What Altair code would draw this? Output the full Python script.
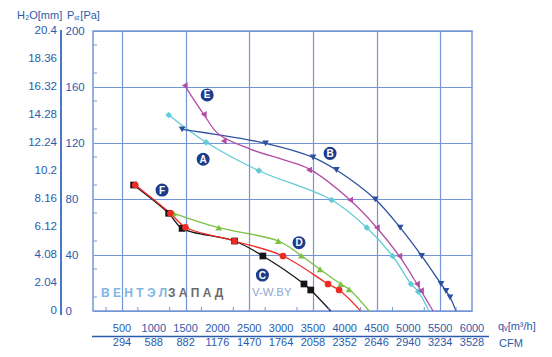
import altair as alt
import pandas as pd

# ---- data (marker positions) ----
A_q = [1234, 1823, 2651, 3795, 4348, 4752, 5041, 5156]
A_p = [140, 120.5, 100.2, 79.3, 59.5, 39.3, 19.3, 13.8]
B_q = [1445, 2757, 3502, 3870, 4479, 4872, 5209, 5513, 5592, 5655]
B_p = [129.8, 119.8, 109.8, 100.7, 79.8, 59.5, 39.3, 19.3, 14.3, 9.8]
C_q = [683, 1234, 1445, 2269, 2714, 3360, 3466]
C_p = [90, 69.8, 59, 50, 39.3, 19.3, 15]
D_q = [1313, 2021, 2957, 3319, 3612, 3938, 4069]
D_p = [69.8, 59.5, 50, 39.5, 29.8, 19.3, 15.5]
E_q = [1486, 1785, 2100, 3439, 4085, 4505, 4857, 5135, 5198]
E_p = [161, 140.5, 121.5, 100.7, 79.3, 59.5, 39.3, 19.3, 14.5]
F_q = [709, 1261, 1497, 2269, 3030, 3738, 3912]
F_p = [90, 69.8, 59.8, 50, 39.3, 19.3, 15]
# curve E is a smoothed fit that runs a little above its third marker
E_line_q = [1486, 1785, 2021, 2524, 3045, 3439, 4085, 4505, 4857, 5135, 5198]
E_line_p = [161, 140.5, 126.2, 115.5, 107.9, 101.5, 79.3, 59.5, 39.3, 19.3, 14.5]
# where each curve meets the zero-pressure line
end_q = {"A": 5324, "B": 5750, "C": 3780, "D": 4384, "E": 5388, "F": 4252}

curves = ["C", "F", "D", "A", "E", "B"]
curve_colors = ["#151515", "#ee2a24", "#7cc242", "#63cbd6", "#b24ca6", "#2c4f9e"]
curve_shapes = ["square", "circle", "triangle-up", "diamond", "triangle-left", "triangle-down"]

lab_letters = ["A", "B", "C", "D", "E", "F"]
lab_q = [1776, 3770, 2707, 3282, 1839, 1130]
lab_p = [108.4, 112.6, 25.7, 48.8, 154.3, 86.4]

qv_ticks = [500, 1000, 1500, 2000, 2500, 3000, 3500, 4000, 4500, 5000, 5500, 6000]
cfm_labels = ["294", "588", "882", "1176", "1470", "1764", "2058", "2352", "2646", "2940", "3234", "3528"]
pa_ticks = [0, 20, 40, 60, 80, 100, 120, 140, 160, 180, 200]
mm_labels = ["0", "2.04", "4.08", "6.12", "8.16", "10.2", "12.24", "14.28", "16.32", "18.36", "20.4"]
minor_y = [10, 30, 50, 70, 90, 110, 130, 150, 170, 190]
minor_x = [250, 750, 1250, 1750, 2250, 2750, 3250, 3750, 4250, 4750, 5250, 5750]

# ---- tables ----
markers = {"A": (A_q, A_p), "B": (B_q, B_p), "C": (C_q, C_p),
           "D": (D_q, D_p), "E": (E_q, E_p), "F": (F_q, F_p)}
line_paths = {"A": (A_q, A_p), "B": (B_q, B_p), "C": (C_q, C_p),
              "D": (D_q, D_p), "E": (E_line_q, E_line_p), "F": (F_q, F_p)}
mrows, lrows = [], []
for c, (qs, ps) in markers.items():
    for q, p in zip(qs, ps):
        mrows.append({"curve": c, "q": q, "p": p})
for c, (qs, ps) in line_paths.items():
    for q, p in zip(qs, ps):
        lrows.append({"curve": c, "q": q, "p": p})
    lrows.append({"curve": c, "q": end_q[c], "p": 0})
df_m = pd.DataFrame(mrows)
df_l = pd.DataFrame(lrows)
df_lab = pd.DataFrame({"letter": lab_letters, "q": lab_q, "p": lab_p})
df_x = pd.DataFrame({"q": qv_ticks, "cfm": cfm_labels})
df_y = pd.DataFrame({"p": pa_ticks, "mm": mm_labels})
df_my = pd.DataFrame({"p": minor_y})
df_mx = pd.DataFrame({"q": minor_x})
one = pd.DataFrame({"a": [0]})

TXT = "#2a5bad"
GRID = "#7596d6"
FONT = "Liberation Sans"
W, H = 379, 280

xs = alt.Scale(domain=[45, 6000], nice=False, zero=False)
ys = alt.Scale(domain=[0, 200], nice=False)

xax = alt.Axis(values=qv_ticks, grid=True, labels=False, ticks=False, domain=False,
               title=None, gridColor=GRID, gridWidth=1.2)
yax = alt.Axis(values=pa_ticks, grid=True, ticks=False, domain=False, title=None,
               gridColor=GRID, gridWidth=1.2, labelAlign="left", labelPadding=28,
               labelBaseline="middle", labelColor=TXT, labelFontSize=11.5, labelFont=FONT)

color_scale = alt.Scale(domain=curves, range=curve_colors)
shape_scale = alt.Scale(domain=curves, range=curve_shapes)

lines = alt.Chart(df_l).mark_line(interpolate="catmull-rom", strokeWidth=1.3).encode(
    x=alt.X("q:Q", scale=xs, axis=xax),
    y=alt.Y("p:Q", scale=ys, axis=yax),
    color=alt.Color("curve:N", scale=color_scale, legend=None),
    detail="curve:N",
)

points = alt.Chart(df_m).mark_point(filled=True, size=45, opacity=1).encode(
    x=alt.X("q:Q", scale=xs),
    y=alt.Y("p:Q", scale=ys),
    color=alt.Color("curve:N", scale=color_scale, legend=None),
    shape=alt.Shape("curve:N", scale=shape_scale, legend=None),
)

badges = alt.Chart(df_lab).mark_circle(size=170, color="#1d3c8c", opacity=1).encode(
    x=alt.X("q:Q", scale=xs), y=alt.Y("p:Q", scale=ys))
badge_text = alt.Chart(df_lab).mark_text(color="white", fontSize=10, fontWeight="bold", font=FONT,
                                         baseline="middle", align="center", dy=0.5).encode(
    x=alt.X("q:Q", scale=xs), y=alt.Y("p:Q", scale=ys), text="letter:N")

minor_left = alt.Chart(df_my).mark_rule(color=GRID, strokeWidth=1).encode(
    y=alt.Y("p:Q", scale=ys), x=alt.value(0), x2=alt.value(4))
minor_bottom = alt.Chart(df_mx).mark_rule(color=GRID, strokeWidth=1).encode(
    x=alt.X("q:Q", scale=xs), y=alt.value(H - 4), y2=alt.value(H))

mm_text = alt.Chart(df_y).mark_text(align="right", baseline="middle", color=TXT,
                                    fontSize=11.5, font=FONT).encode(
    y=alt.Y("p:Q", scale=ys), x=alt.value(-36), text="mm:N")

qv_text = alt.Chart(df_x).mark_text(align="center", baseline="middle", color=TXT,
                                    fontSize=11, font=FONT).encode(
    x=alt.X("q:Q", scale=xs), y=alt.value(298), text="q:Q")
cfm_text = alt.Chart(df_x).mark_text(align="center", baseline="middle", color=TXT,
                                     fontSize=11, font=FONT).encode(
    x=alt.X("q:Q", scale=xs), y=alt.value(312), text="cfm:N")

sep_rule = alt.Chart(one).mark_rule(color=TXT, strokeWidth=1.3).encode(
    x=alt.value(-1), x2=alt.value(396), y=alt.value(305.5))
left_rule = alt.Chart(one).mark_rule(color="#4a78c8", strokeWidth=2).encode(
    x=alt.value(-32), y=alt.value(-1), y2=alt.value(284))


def label(text, x, y, color=TXT, size=11, weight="normal", align="left"):
    return alt.Chart(one).mark_text(text=text, align=align, baseline="middle", color=color,
                                    fontSize=size, font=FONT, fontWeight=weight).encode(
        x=alt.value(x), y=alt.value(y))


header1 = label("H\u2082O[mm]", -76, -15)
header2 = label("P\u209b\u209c[Pa]", -26, -15)
unit1 = label("q\u1d65[m\u00b3/h]", 405, 296)
unit2 = label("CFM", 406, 313)
wm1 = label("В Е Н Т Э Л", 8, 262, color="#7fb6e6", size=12, weight="bold")
wm2 = label("З А П А Д", 75, 262, color="#6b6b6b", size=12, weight="bold")
wm3 = label("V-W.BY", 159, 262, color="#8fa6d2", size=11.5)

chart = alt.layer(
    lines, minor_left, minor_bottom, wm1, wm2, wm3, points, badges, badge_text,
    mm_text, qv_text, cfm_text, sep_rule, left_rule, header1, header2, unit1, unit2,
).properties(
    width=W, height=H,
    autosize=alt.AutoSizeParams(type="none"),
    padding={"left": 93, "top": 31, "right": 80, "bottom": 46},
    background="white",
).configure_view(stroke=GRID, strokeWidth=1.5)

chart.save("out.html", embed_options={"renderer": "svg", "actions": False})
